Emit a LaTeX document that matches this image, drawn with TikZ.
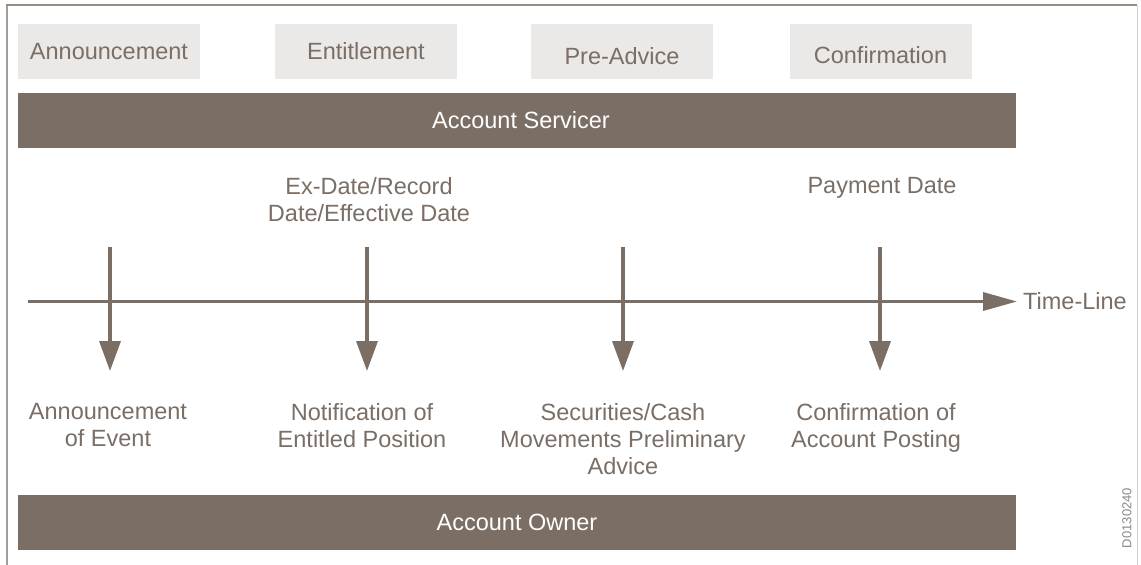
\documentclass[tikz,border=0pt]{standalone}
\usepackage{fontspec}
\setmainfont{Liberation Sans}
\usetikzlibrary{arrows.meta}
\definecolor{brn}{HTML}{7A6E65}
\definecolor{lightbox}{HTML}{EBE9E7}
\definecolor{leftframe}{HTML}{A59D97}
\definecolor{topframe}{HTML}{978C84}
\definecolor{rframe}{HTML}{D2D2D2}
\definecolor{idgray}{HTML}{8A8A8A}
\begin{document}
\begin{tikzpicture}[x=1pt,y=-1pt,
  txt/.style={font=\fontsize{23.5}{27}\selectfont},
  phase/.style={txt, fill=lightbox, text=brn, minimum width=182pt, minimum height=55pt, inner sep=0pt},
  bar/.style={txt, fill=brn, text=white, minimum width=998pt, minimum height=55pt, inner sep=0pt},
  lbl/.style={txt, text=brn, align=center, inner sep=0pt, anchor=north},
  evt/.style={draw=brn, line width=3.5pt, -{Triangle[length=30pt,width=21pt]}},
  tl/.style={draw=brn, line width=3.5pt, -{Triangle[length=34pt,width=18pt]}}
]
\useasboundingbox (0,0) rectangle (1141,565);
\fill[white] (0,0) rectangle (1141,565);
% frame
\draw[leftframe, line width=2pt] (7,565) -- (7,5);
\draw[topframe, line width=1.5pt] (6,5) -- (1137,5);
\draw[rframe, line width=1pt] (1137,5) -- (1137,565);

% phases
\node[phase] (p1) at (109,51.5) {Announcement};
\node[phase] (p2) at (366,51.5) {Entitlement};
\node[phase, text height=25pt, text depth=0pt] (p3) at (622,51.5) {Pre-Advice};
\node[phase, text height=23pt, text depth=0pt] (p4) at (880.5,51.5) {Confirmation};

% bars
\node[bar] (srv) at (517,120.5) {\hspace*{8pt}Account Servicer};
\node[bar] (own) at (517,522.5) {Account Owner};

% upper labels
\node[lbl] (d1) at (369,177) {Ex-Date/Record\\Date/Effective Date};
\node[lbl] (d2) at (882,177) {Payment Date};

% lower labels
\node[lbl] (e1) at (108,403) {Announcement\\of Event};
\node[lbl] (e2) at (362,403) {Notification of\\Entitled Position};
\node[lbl] (e3) at (623,403) {Securities/Cash\\Movements Preliminary\\Advice};
\node[lbl] (e4) at (876,403) {Confirmation of\\Account Posting};

% time line
\node[txt, text=brn, anchor=west, inner sep=0pt] (tlt) at (1023,301.5) {Time-Line};
\coordinate (tls) at (28,301.5);
\draw[tl] (tls) -- ([xshift=-6pt]tlt.west);

% event arrows
\coordinate (a1s) at (110,247); \coordinate (a1e) at (110,371);
\coordinate (a2s) at (367,247); \coordinate (a2e) at (367,371);
\coordinate (a3s) at (623,247); \coordinate (a3e) at (623,371);
\coordinate (a4s) at (880,247); \coordinate (a4e) at (880,371);
\draw[evt] (a1s) -- (a1e);
\draw[evt] (a2s) -- (a2e);
\draw[evt] (a3s) -- (a3e);
\draw[evt] (a4s) -- (a4e);

% id
\node[rotate=90, text=idgray, font=\fontsize{13}{15}\selectfont, inner sep=0pt] (id) at (1127,518) {D0130240};
\end{tikzpicture}
\end{document}
